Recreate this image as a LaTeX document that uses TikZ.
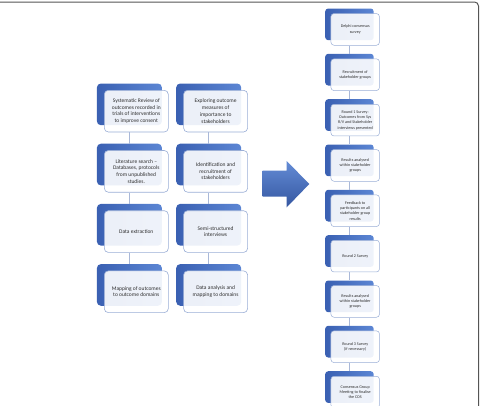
\documentclass[tikz,border=0pt]{standalone}
\usepackage{fontspec}
\setmainfont{Carlito}
\definecolor{bdark}{HTML}{3A60B2}
\definecolor{blight}{HTML}{5C86D4}
\definecolor{fborder}{HTML}{9AAED6}
\definecolor{conncol}{HTML}{A9B8D8}
\definecolor{textc}{HTML}{2E2E2E}
\definecolor{framec}{HTML}{555555}
\begin{document}
\begin{tikzpicture}[x=1pt,y=-1pt,
  backL/.style={draw=none, rounded corners=4pt, left color=bdark, right color=blight,
    minimum width=65pt, minimum height=41.7pt, anchor=north west, inner sep=0pt},
  frontL/.style={draw=fborder, line width=0.6pt, rounded corners=4pt, fill=white, fill opacity=0.9,
    text opacity=1, minimum width=64pt, minimum height=41.7pt, anchor=north west, inner sep=1pt,
    align=center, text=textc, font=\fontsize{5.5}{6.7}\selectfont},
  backR/.style={draw=none, rounded corners=3pt, left color=bdark, right color=blight,
    minimum width=48.5pt, minimum height=31.7pt, anchor=north west, inner sep=0pt},
  frontR/.style={draw=fborder, line width=0.5pt, rounded corners=3pt, fill=white, fill opacity=0.9,
    text opacity=1, minimum width=48.5pt, minimum height=31.7pt, anchor=north west, inner sep=0.5pt,
    align=center, text=textc, font=\fontsize{4.1}{5.4}\selectfont},
  conn/.style={draw=conncol, line width=0.8pt},
  framestyle/.style={draw=framec, line width=1pt, rounded corners=4pt}
]
\useasboundingbox (0,0) rectangle (487,405);
\begin{scope}
\clip (0,0) rectangle (487,405);
\draw[framestyle] (-10,2) -- (478.5,2) -- (478.5,420);

% left column 1
\node[backL] (La1) at (96.7,83.3) {};
\node[frontL] (Fa1) at (104,90) {Systematic Review of\\outcomes recorded in\\trials of interventions\\to improve consent};
\node[backL] (La2) at (96.7,143.5) {};
\node[frontL] (Fa2) at (104,150.2) {Literature search --\\Databases, protocols\\from unpublished\\studies.};
\node[backL] (La3) at (96.7,203.7) {};
\node[frontL] (Fa3) at (104,210.4) {Data extraction};
\node[backL] (La4) at (96.7,263.9) {};
\node[frontL] (Fa4) at (104,270.6) {Mapping of outcomes\\to outcome domains};

% left column 2
\node[backL] (Lb1) at (176,83.3) {};
\node[frontL] (Fb1) at (183.3,90) {Exploring outcome\\measures of\\importance to\\stakeholders};
\node[backL] (Lb2) at (176,143.5) {};
\node[frontL] (Fb2) at (183.3,150.2) {Identification and\\recruitment of\\stakeholders};
\node[backL] (Lb3) at (176,203.7) {};
\node[frontL] (Fb3) at (183.3,210.4) {Semi-structured\\interviews};
\node[backL] (Lb4) at (176,263.9) {};
\node[frontL] (Fb4) at (183.3,270.6) {Data analysis and\\mapping to domains};

% connectors left
\foreach \c in {a,b}{
  \draw[conn] (L\c1.center |- F\c1.south) -- (L\c2.north);
  \draw[conn] (L\c2.center |- F\c2.south) -- (L\c3.north);
  \draw[conn] (L\c3.center |- F\c3.south) -- (L\c4.north);
}

% arrow
\path[top color=blight!95!white, bottom color=bdark!90!black]
  (262.7,170.7) -- (286.7,170.7) -- (286.7,161) -- (309.3,184) -- (286.7,207.3) -- (286.7,196.5) -- (262.7,196.5) -- cycle;

% right column
\node[backR] (R1) at (325,8.3) {};
\node[frontR] (G1) at (330.7,13.3) {Delphi consensus\\survey};
\node[backR] (R2) at (325,53.6) {};
\node[frontR] (G2) at (330.7,58.6) {Recruitment of\\stakeholder groups};
\node[backR] (R3) at (325,99) {};
\node[frontR] (G3) at (330.7,104) {Round 1 Survey:\\Outcomes from Sys\\R/V and Stakeholder\\interviews presented};
\node[backR] (R4) at (325,144.3) {};
\node[frontR] (G4) at (330.7,149.3) {Results analysed\\within stakeholder\\groups};
\node[backR] (R5) at (325,189.6) {};
\node[frontR] (G5) at (330.7,194.6) {Feedback to\\participants on all\\stakeholder group\\results};
\node[backR] (R6) at (325,235) {};
\node[frontR] (G6) at (330.7,240) {Round 2 Survey};
\node[backR] (R7) at (325,280.3) {};
\node[frontR] (G7) at (330.7,285.3) {Results analysed\\within stakeholder\\groups};
\node[backR] (R8) at (325,325.6) {};
\node[frontR] (G8) at (330.7,330.6) {Round 3 Survey\\(if necessary)};
\node[backR] (R9) at (325,371) {};
\node[frontR] (G9) at (330.7,376) {Consensus Group\\Meeting to finalise\\the COS};

\foreach \i [evaluate=\i as \j using int(\i+1)] in {1,...,8}{
  \draw[conn] (R\i.center |- G\i.south) -- (R\j.north);
}
\end{scope}
\end{tikzpicture}
\end{document}
